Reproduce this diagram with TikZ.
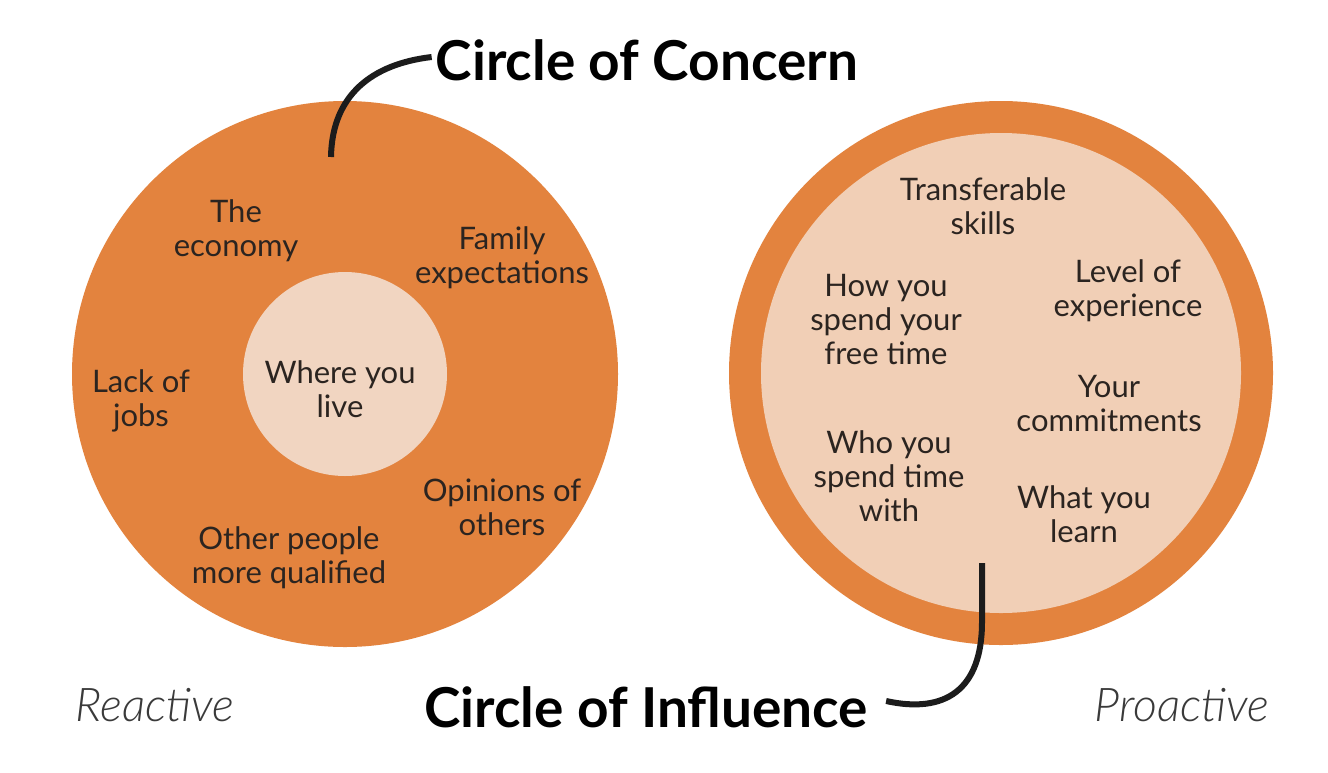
\documentclass[tikz,border=0pt]{standalone}
\usepackage{fontspec}
\setmainfont{Lato}
\newfontfamily\lightit{Lato Light Italic}
\definecolor{orangec}{HTML}{E3833E}
\definecolor{peach}{HTML}{F1CFB6}
\definecolor{peachlt}{HTML}{F1D5C1}
\definecolor{textc}{HTML}{2B2420}
\definecolor{linec}{HTML}{1C1C1C}
\definecolor{sidec}{HTML}{3A3A3A}
\tikzset{
  lbl/.style={align=center, text=textc, inner sep=0pt, font=\fontsize{31}{34}\selectfont},
  ttl/.style={text=black, inner sep=0pt, font=\fontsize{55}{62}\selectfont\bfseries},
  side/.style={text=sidec, inner sep=0pt, font=\lightit\fontsize{46.5}{52}\selectfont},
  conn/.style={draw=linec, line width=6pt},
}
\begin{document}
\begin{tikzpicture}[x=1pt,y=-1pt]
\useasboundingbox[fill=white] (0,0) rectangle (1328,772);
% left circle
\fill[orangec] (345,374) circle (273);
\fill[peachlt] (345,374) circle (102);
% right circle
\fill[orangec] (1001,373) circle (272);
\fill[peach] (1001,373) circle (240);

% left labels
\node[lbl] (econ) at (236,231) {The\\economy};
\node[lbl] (fam) at (502,258) {Family\\expectations};
\node[lbl] (live) at (340,389) {Where you\\live};
\node[lbl] (jobs) at (141,401) {Lack of\\jobs};
\node[lbl] (opin) at (502,507) {Opinions of\\others};
\node[lbl] (qual) at (289,558) {Other people\\more qualified};

% right labels
\node[lbl] (trans) at (983,206) {Transferable\\skills};
\node[lbl] (free) at (886,320) {How you\\spend your\\free time};
\node[lbl] (exp) at (1128,291) {Level of\\experience};
\node[lbl] (comm) at (1109,404) {Your\\commitments};
\node[lbl] (who) at (889,476) {Who you\\spend time\\with};
\node[lbl] (learn) at (1084,514) {What you\\learn};

% titles
\node[ttl] (coc) at (647,60) {Circle of Concern};
\node[ttl] (coi) at (646,707) {Circle of Influence};
\node[side] (react) at (155,705) {Reactive};
\node[side] (proact) at (1182,705) {Proactive};

% connectors
\coordinate (c1) at (331,157);
\draw[conn] (c1) .. controls (332,95) and (372,64) .. ([xshift=-4pt,yshift=3pt]coc.west);
\coordinate (c2) at (982,563);
\draw[conn] (c2) -- (982,622) .. controls (982,690) and (945,714) .. ([xshift=18pt,yshift=6pt]coi.east);
\end{tikzpicture}
\end{document}
